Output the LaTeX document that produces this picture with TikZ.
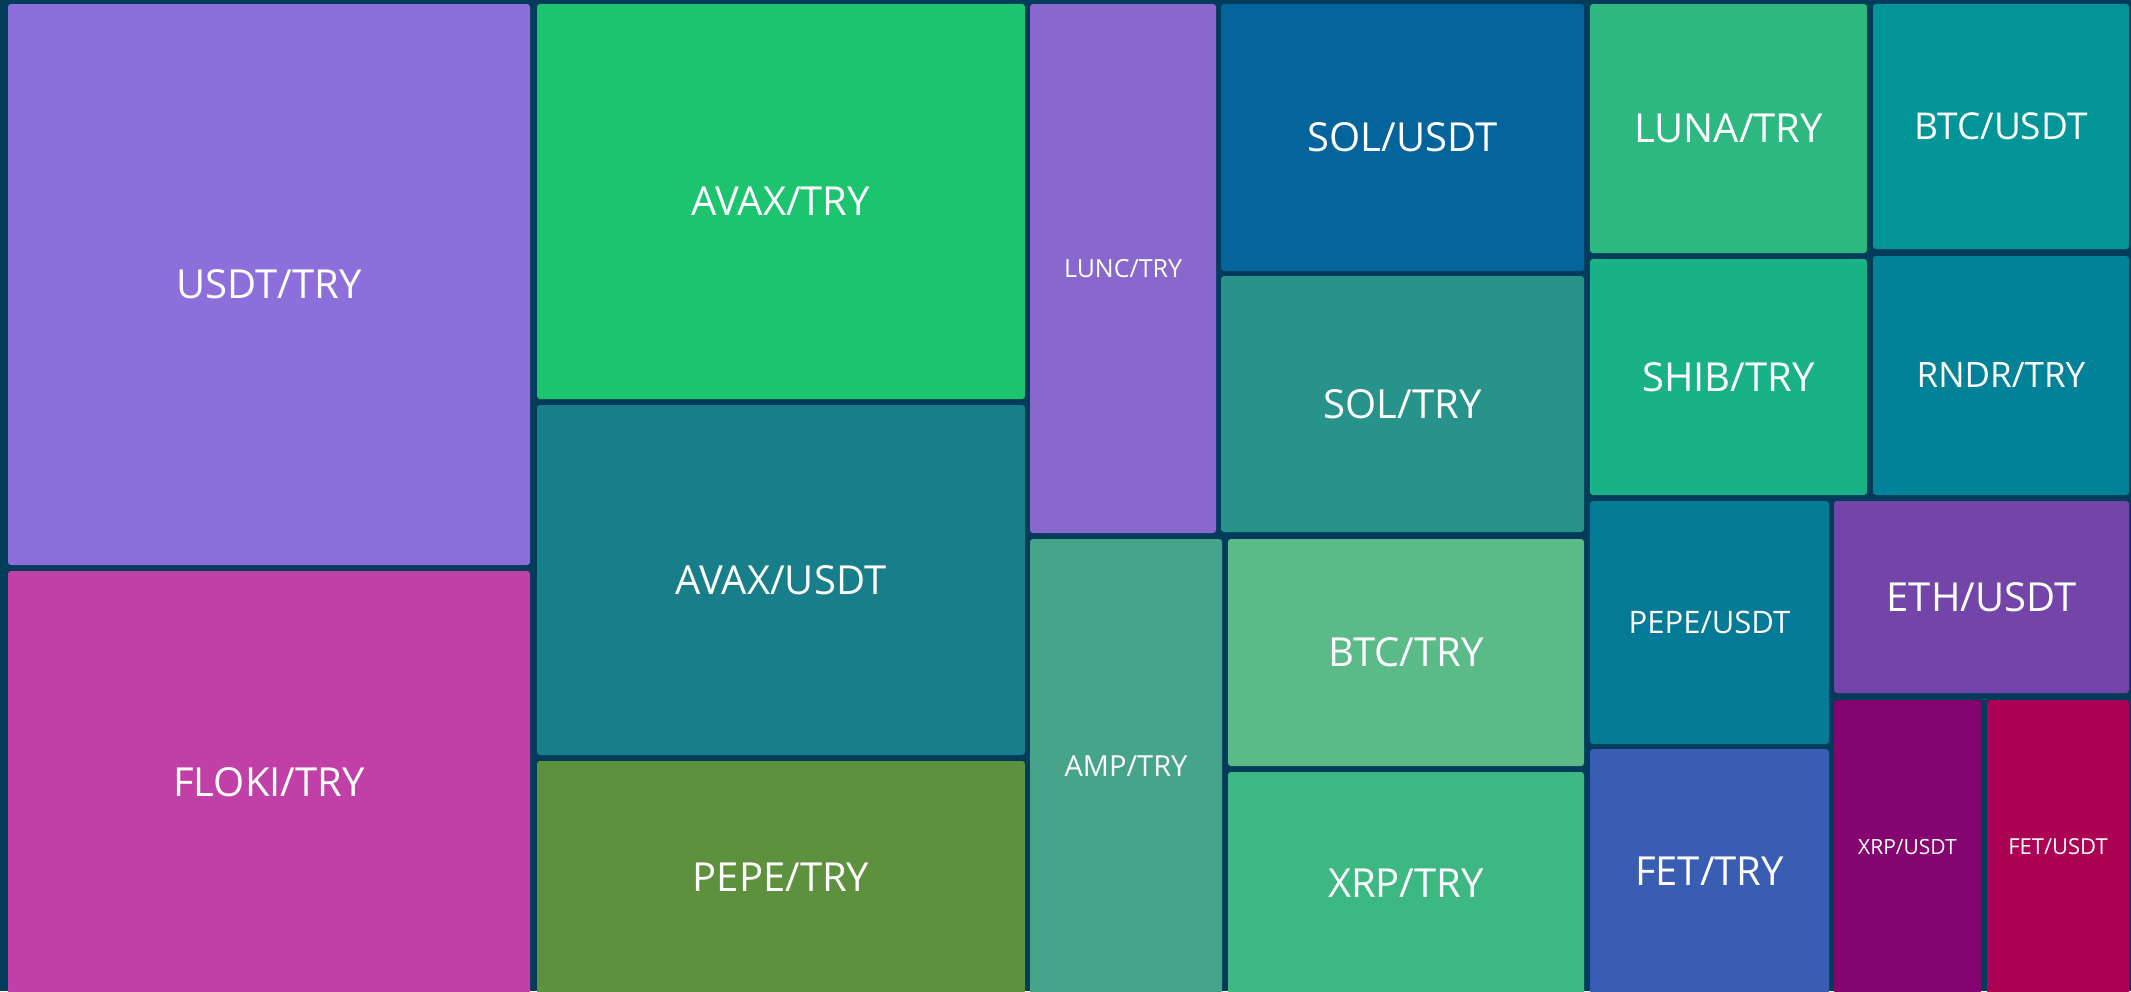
\documentclass[tikz,border=0pt]{standalone}
\usepackage{fontspec}
\setmainfont{Open Sans}
\usepackage{tikz}

\definecolor{bgnavy}{HTML}{033B5A}
\definecolor{cUsdtTry}{HTML}{8D6FDB}
\definecolor{cFlokiTry}{HTML}{C040A8}
\definecolor{cAvaxTry}{HTML}{1DC46F}
\definecolor{cAvaxUsdt}{HTML}{177E8A}
\definecolor{cPepeTry}{HTML}{5E913E}
\definecolor{cLuncTry}{HTML}{8868CD}
\definecolor{cAmpTry}{HTML}{45A489}
\definecolor{cSolUsdt}{HTML}{03649C}
\definecolor{cSolTry}{HTML}{27938A}
\definecolor{cBtcTry}{HTML}{5ABA88}
\definecolor{cXrpTry}{HTML}{3DB882}
\definecolor{cLunaTry}{HTML}{2DB880}
\definecolor{cBtcUsdt}{HTML}{019598}
\definecolor{cShibTry}{HTML}{19B286}
\definecolor{cRndrTry}{HTML}{028299}
\definecolor{cPepeUsdt}{HTML}{037A96}
\definecolor{cEthUsdt}{HTML}{7445A8}
\definecolor{cFetTry}{HTML}{385DB3}
\definecolor{cXrpUsdt}{HTML}{840470}
\definecolor{cFetUsdt}{HTML}{AC0254}

\tikzset{
    tile/.style={rectangle, rounded corners=3pt, inner sep=0pt, outer sep=0pt,
        text=white, align=center}
}

\begin{document}
\begin{tikzpicture}[x=1pt, y=-1pt]
                %frame
                \useasboundingbox (0,0) rectangle (2131,991);
                \fill[bgnavy] (0,0) rectangle (2131,991);
                \clip (0,0) rectangle (2131,991);
                %tiles: name/left/top/right/bottom/colour/size/label
                \foreach \name/\xa/\ya/\xb/\yb/\col/\fs/\lbl in {
                        usdttry/8/4/530/565/cUsdtTry/40/USDT\slash TRY,
                        flokitry/8/571/530/994/cFlokiTry/40/FLOKI\slash TRY,
                        avaxtry/537/4/1025/399/cAvaxTry/40/AVAX\slash TRY,
                        avaxusdt/537/405/1025/755/cAvaxUsdt/40/AVAX\slash USDT,
                        pepetry/537/761/1025/994/cPepeTry/40/PEPE\slash TRY,
                        lunctry/1030/4/1216/533/cLuncTry/25/LUNC\slash TRY,
                        amptry/1030/539/1222/994/cAmpTry/29/AMP\slash TRY,
                        solusdt/1221/4/1584/271/cSolUsdt/40/SOL\slash USDT,
                        soltry/1221/276/1584/532/cSolTry/40/SOL\slash TRY,
                        btctry/1228/539/1584/766/cBtcTry/40/BTC\slash TRY,
                        xrptry/1228/772/1584/994/cXrpTry/40/XRP\slash TRY,
                        lunatry/1590/4/1867/253/cLunaTry/40/LUNA\slash TRY,
                        btcusdt/1873/4/2129/249/cBtcUsdt/37/BTC\slash USDT,
                        shibtry/1590/259/1867/495/cShibTry/40/SHIB\slash TRY,
                        rndrtry/1873/256/2129/495/cRndrTry/35/RNDR\slash TRY,
                        pepeusdt/1590/501/1829/744/cPepeUsdt/31/PEPE\slash USDT,
                        ethusdt/1834/501/2129/693/cEthUsdt/40/ETH\slash USDT,
                        fettry/1590/749/1829/994/cFetTry/40/FET\slash TRY,
                        xrpusdt/1834/700/1981/994/cXrpUsdt/21/XRP\slash USDT,
                        fetusdt/1987/700/2129/994/cFetUsdt/22/FET\slash USDT}
                    \node[tile, fill=\col, minimum width=\xb-\xa, minimum height=\yb-\ya,
                        font=\fontsize{\fs}{\fs}\selectfont]
                        (\name) at ({(\xa+\xb)/2},{(\ya+\yb)/2}) {\lbl};
\end{tikzpicture}
\end{document}
